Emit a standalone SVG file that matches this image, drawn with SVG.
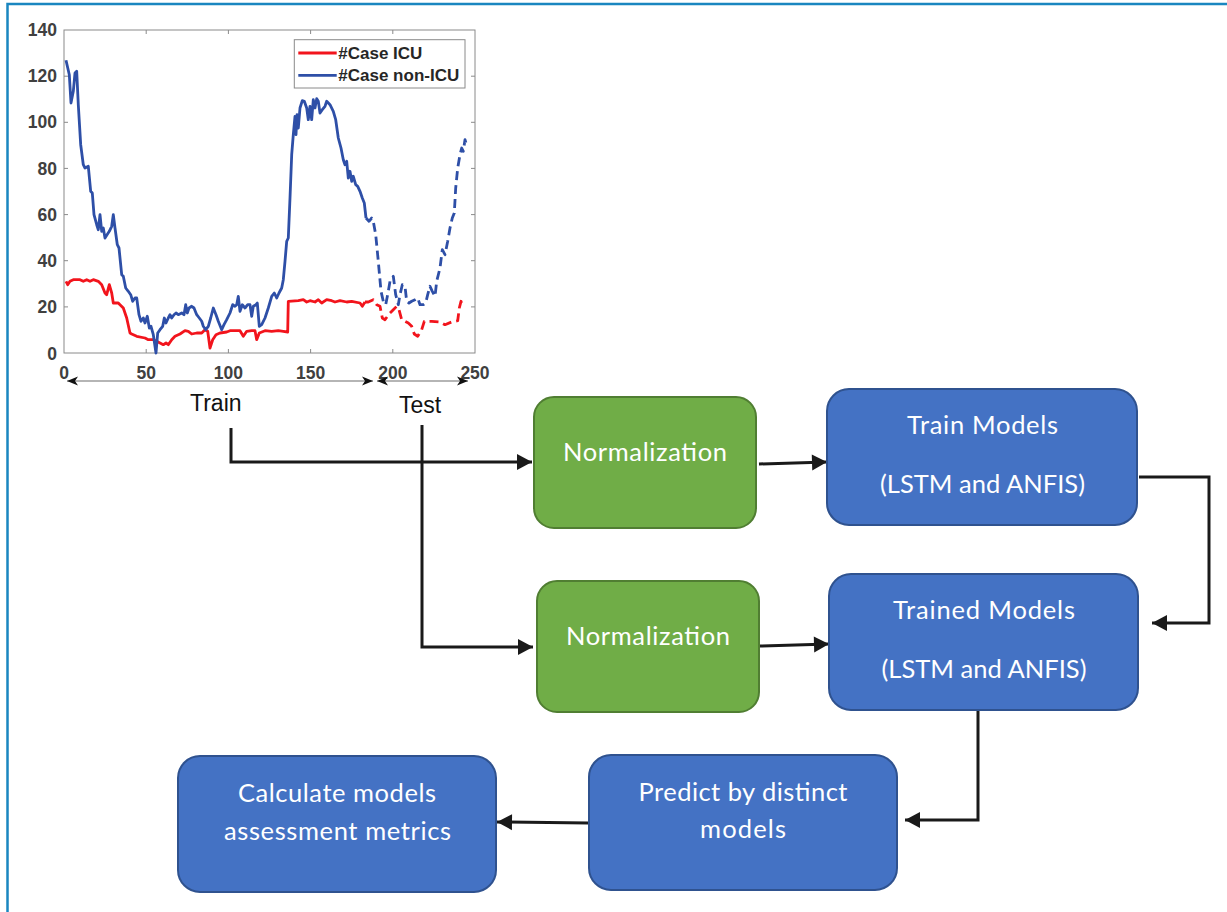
<svg xmlns="http://www.w3.org/2000/svg" width="1227" height="912" viewBox="0 0 1227 912">
<style>
.axis{fill:none;stroke:#8a8a8a;stroke-width:1}
.tick{font-family:"Liberation Sans",Arial,sans-serif;font-weight:bold;font-size:17.5px;fill:#404040}
.leg{font-family:"Liberation Sans",Arial,sans-serif;font-weight:bold;font-size:17px;fill:#262626}
.lbl{font-family:"Liberation Sans",Arial,sans-serif;font-size:23px;fill:#111}
.blue{fill:none;stroke:#2e4fa7;stroke-width:2.8;stroke-linejoin:round}
.red{fill:none;stroke:#f2141c;stroke-width:2.8;stroke-linejoin:round}
.dash{stroke-dasharray:9 5}
.span{fill:none;stroke:#6d6d6d;stroke-width:1.2;marker-start:url(#st);marker-end:url(#st)}
.gbox{fill:#70ad47;stroke:#507e32;stroke-width:2}
.bbox{fill:#4472c4;stroke:#2f528f;stroke-width:2}
.bt{font-family:Lato,"Open Sans",sans-serif;font-size:25.5px;fill:#ffffff;text-anchor:middle}
.conn{fill:none;stroke:#1a1a1a;stroke-width:3;marker-end:url(#ah)}
</style>
<defs>
<marker id="st" markerUnits="userSpaceOnUse" markerWidth="20" markerHeight="20" refX="0" refY="0" orient="auto-start-reverse" overflow="visible">
<path d="M0,0 L-11,-4.5 L-8,0 L-11,4.5 Z" fill="#111"/>
</marker>
<marker id="ah" markerUnits="userSpaceOnUse" markerWidth="30" markerHeight="30" refX="0" refY="0" orient="auto" overflow="visible">
<path d="M0,0 L-15,-8 L-15,8 Z" fill="#1a1a1a"/>
</marker>
</defs>
<rect width="1227" height="912" fill="#ffffff"/>
<path d="M7.5,912 V4 H1227" fill="none" stroke="#1a86c0" stroke-width="2.5"/>

<g id="chart">
<rect class="axis" x="64" y="30" width="411" height="323" fill="#ffffff"/>
<path class="axis" d="M146.2,353v-4M228.4,353v-4M310.6,353v-4M392.8,353v-4M146.2,30v4M228.4,30v4M310.6,30v4M392.8,30v4M64,306.9h4M64,260.7h4M64,214.6h4M64,168.4h4M64,122.3h4M64,76.2h4M475,306.9h-4M475,260.7h-4M475,214.6h-4M475,168.4h-4M475,122.3h-4M475,76.2h-4"/>
<g class="tick" text-anchor="end">
<text x="57" y="360">0</text>
<text x="57" y="313">20</text>
<text x="57" y="267">40</text>
<text x="57" y="221">60</text>
<text x="57" y="175">80</text>
<text x="57" y="128">100</text>
<text x="57" y="82">120</text>
<text x="57" y="36">140</text>
</g>
<g class="tick" text-anchor="middle">
<text x="64" y="379">0</text>
<text x="146.2" y="379">50</text>
<text x="228.4" y="379">100</text>
<text x="310.6" y="379">150</text>
<text x="392.8" y="379">200</text>
<text x="475" y="379">250</text>
</g>
<polyline class="red" points="66,281.3 67.7,284.7 70,281.3 73.3,279.7 80,279.7 83.3,281.3 86.7,279.7 90,281.3 93.3,279.7 98.3,281.3 101.7,284.7 105,293 106.7,294.7 109.3,284.7 111.7,293 113.3,303 118.3,303 120,304.7 123.3,308 126.7,318 130,333 131.7,334 136.7,336.3 145,338 148.3,339.7 153.3,339.7 156.7,341.3 160,343 163.3,344.7 166,343 168.3,344.7 171.7,339.7 175,336.3 180,334 185,330.7 188.3,331.3 191.7,334 196.7,333 201.7,333 205,329.7 207.7,331.3 210,348 212.7,339.7 216,334.7 220,333 226.7,332 230,330.7 240,330.7 243.3,336.3 246.7,331.3 251.7,330.7 255,330.7 256.7,339.7 259.3,333 265,330.7 271.7,331.3 278.3,330.7 283.3,331.3 287.7,332 288.3,301.3 298.3,300.7 303.3,299.7 306.7,302 310,300.7 315,302 318.3,299.7 321.7,303 326.7,299.7 331.7,300.7 335,302 340,300.7 346.7,302 351.7,301.3 360,303 362.3,306.3 365,302"/>
<polyline class="red dash" points="365,302 368.3,302 373.3,299.7 376.7,304.7 380,306.3 382.3,318 385,319.7 390,313 393.3,309.7 396.7,306.3 399,309.7 401.7,319.7 405,321.3 408.3,323 411.7,326.3 414.3,334 417.7,336.3 421.7,329.7 424.3,321.3 431.7,321.3 440,322 445,324.7 451.7,322 457.7,320.7 459.3,308 461,301.3 462.3,305.3"/>
<polyline class="blue" points="66,60.3 69.3,74.7 71,103 73.3,91.3 75,73 76.7,71.3 78.3,104.7 80.7,144.7 83.3,164.7 85,168 88.3,166.3 90.7,191.3 92.3,193 94,214.7 96.7,224.7 98.3,229.7 100,214.7 101.7,231.3 103.3,228 105,238 109.3,231.3 111.7,226.3 113.3,214.7 115,228 117.3,244.7 119,248 121.7,274.7 123.3,276.3 125.7,288 128.3,291.3 130.7,294.7 132.7,301.3 135,298 136.7,298 139,314.7 141,321.3 143.3,318 145,323 147.3,316.3 149.3,328 151,326.3 153.3,334.7 156,353 157.7,333 160,329.7 162.7,326.3 164.3,318 166,323 168.3,318 170,314.7 171.7,318 174,314.7 176,313 178.3,314.7 181.7,313 184,314.7 185.7,304.7 187.3,313 189,308 191.7,306.3 194,308 196.7,314.7 199.3,318 201.7,321.3 203.3,326.3 205.7,329.7 208.3,326.3 210.7,318 213.3,308 216,314.7 218.3,321.3 221.7,329.7 224,324.7 226.7,319.7 230,313 232.7,304.7 235,306.3 236.7,304.7 238.3,296.3 240,311.3 242.3,304.7 245,308 247.7,304.7 250,304.7 251.7,316.3 253.3,306.3 256,304.7 257.3,303 259.3,326.3 261.7,324.7 265,318 268.3,308 271.7,296.3 274.3,293 276.7,298 279,293 281.7,288 283.3,279.7 285,261.3 286.7,241.3 288.3,238 290,198 291.7,154.7 293.3,134.7 295,116.3 296,134.7 297,114.7 298.3,128 300,108 302.3,100.7 304.3,101.3 306.7,108 308.3,119.7 310,106.3 311.7,119.7 313.3,99.7 315,108 316.7,98.7 318.3,101.3 320,113 322.3,109.7 325,106.3 326.7,101.3 330,104.7 333.3,111.3 335.7,119.7 338.3,138 341,148 343.3,159.7 345,164.7 346.7,161.3 348.3,178 350,171.3 351.7,181.3 353.3,176.3 355.7,184.7 357.7,186.3 360,191.3 362.3,198 364.3,203 366,218"/>
<polyline class="blue dash" points="366,218 369,221.3 371.7,218 373.3,221.3 375.7,234.7 378.3,261.3 381,291.3 383.3,301.3 385.7,304.7 388.3,291.3 390,281.3 393.3,276.3 395.7,294.7 398.3,304.7 400,294.7 402.3,284.7 405,286.3 406.7,301.3 409,303 411.7,301.3 415,299.7 417.7,298 420,304.7 423.3,304.7 425.7,303 427.7,294.7 430,286.3 432.3,291.3 435,296.3 436.7,281.3 440,268 442.3,249.7 445,254.7 447.7,241.3 450,228 452.3,218 454.3,213 455.7,188 457.7,168 460,154.7 461.7,148 463.3,151.3 465,139.7 466,143"/>
<rect x="294.3" y="39.7" width="170.7" height="48.3" fill="#ffffff" stroke="#8a8a8a" stroke-width="1"/>
<line x1="298.3" y1="53" x2="336.7" y2="53" stroke="#f2141c" stroke-width="2.8"/>
<line x1="298.3" y1="75.3" x2="336.7" y2="75.3" stroke="#2e4fa7" stroke-width="2.8"/>
<text class="leg" x="338.3" y="58.7">#Case ICU</text>
<text class="leg" x="338.3" y="81.3">#Case non-ICU</text>
<line class="span" x1="67" y1="381" x2="373" y2="381"/>
<line class="span" x1="377" y1="381" x2="468" y2="381"/>
<text class="lbl" x="190" y="411">Train</text>
<text class="lbl" x="399" y="413">Test</text>
</g>

<g id="connectors">
<polyline class="conn" points="231,428 231,462 532,462"/>
<polyline class="conn" points="422,425 422,647 533,647"/>
<line class="conn" x1="759" y1="464" x2="827" y2="462"/>
<line class="conn" x1="760" y1="646" x2="829" y2="644"/>
<polyline class="conn" points="1139,477 1209,477 1209,623 1152,623"/>
<polyline class="conn" points="978,710 978,820 905,820"/>
<line class="conn" x1="588" y1="823" x2="497" y2="822"/>
</g>

<g id="norm1">
<rect class="gbox" x="534" y="397" width="222" height="131" rx="20"/>
<text class="bt" x="645" y="461" textLength="164">Normalization</text>
</g>
<g id="norm2">
<rect class="gbox" x="537" y="581" width="222" height="131" rx="20"/>
<text class="bt" x="648" y="645" textLength="164">Normalization</text>
</g>
<g id="train-models">
<rect class="bbox" x="827" y="389" width="310" height="136" rx="22"/>
<text class="bt" x="982.5" y="434" textLength="151">Train Models</text>
<text class="bt" x="982.5" y="492.5" textLength="205">(LSTM and ANFIS)</text>
</g>
<g id="trained-models">
<rect class="bbox" x="829" y="574" width="309" height="136" rx="22"/>
<text class="bt" x="984" y="619" textLength="182">Trained Models</text>
<text class="bt" x="984" y="677.5" textLength="205">(LSTM and ANFIS)</text>
</g>
<g id="predict">
<rect class="bbox" x="589" y="755" width="308" height="135" rx="22"/>
<text class="bt" x="743" y="801" textLength="209">Predict by distinct</text>
<text class="bt" x="743" y="838" textLength="86">models</text>
</g>
<g id="calculate">
<rect class="bbox" x="178" y="756" width="318" height="136" rx="22"/>
<text class="bt" x="337" y="802" textLength="198">Calculate models</text>
<text class="bt" x="337.5" y="840" textLength="227">assessment metrics</text>
</g>
</svg>
